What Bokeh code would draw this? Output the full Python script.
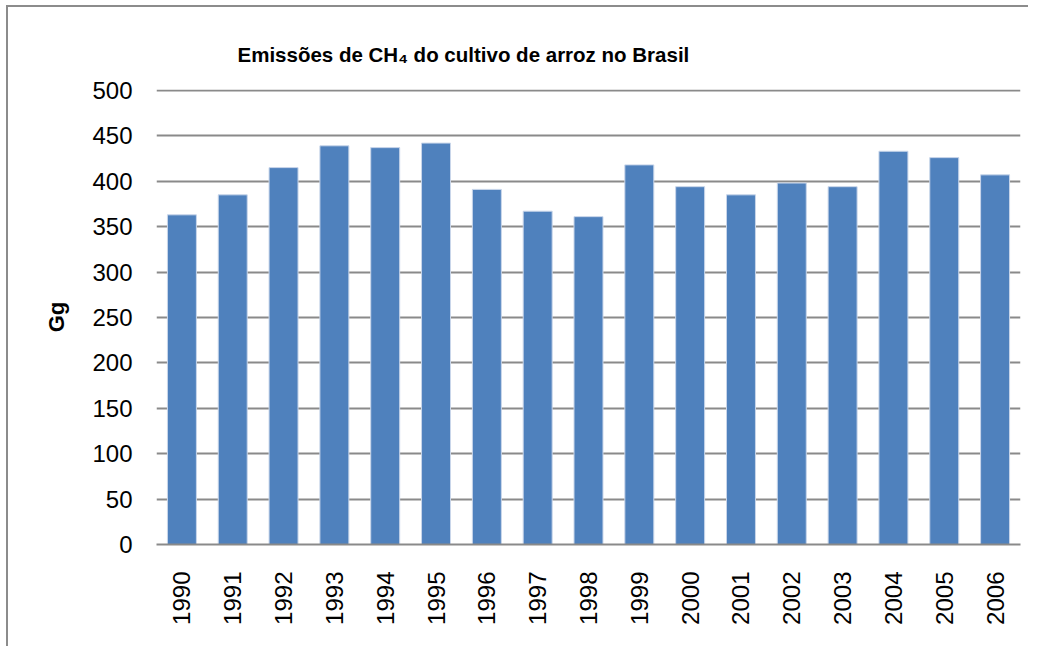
from bokeh.plotting import figure
from bokeh.models import ColumnDataSource, Range1d, FixedTicker
from bokeh.embed import file_html
from bokeh.resources import INLINE
from math import pi

years = ["1990", "1991", "1992", "1993", "1994", "1995", "1996", "1997", "1998",
         "1999", "2000", "2001", "2002", "2003", "2004", "2005", "2006"]
emissions = [363, 385, 415, 439, 437, 442, 391, 367, 361,
             418, 394, 385, 398, 394, 433, 426, 407]
y_ticks = [0, 50, 100, 150, 200, 250, 300, 350, 400, 450, 500]
title_text = "Emissões de CH₄ do cultivo de arroz no Brasil"

src = ColumnDataSource(data=dict(year=years, value=emissions))

p = figure(x_range=years, y_range=Range1d(0, 501), width=1022, height=641,
           output_backend="svg", toolbar_location=None,
           min_border_left=148, min_border_right=10, min_border_top=82,
           min_border_bottom=104,
           title=title_text)
p.styles = {"border-left": "2px solid #8c8c8c", "border-top": "2px solid #8c8c8c",
            "margin-left": "6px", "margin-top": "5px"}

p.vbar(x="year", top="value", width=0.57, source=src,
       fill_color="#4F81BD", line_color="#c9d6ea", line_width=1)

FONT = "Liberation Sans"
p.title.text_font = FONT
p.title.text_font_style = "bold"
p.title.text_font_size = "20.5px"
p.title.text_color = "#000000"
p.title.align = "left"
p.title.vertical_align = "top"
p.title.offset = 81
p.title.standoff = 44

p.outline_line_color = None
p.xgrid.grid_line_color = None
p.ygrid.grid_line_color = "#8a8a8a"
p.ygrid.grid_line_width = 2
p.yaxis.ticker = FixedTicker(ticks=y_ticks)
p.yaxis.axis_line_color = None
p.yaxis.major_tick_line_color = None
p.yaxis.minor_tick_line_color = None
p.yaxis.major_label_standoff = 18
p.yaxis.major_label_text_font = FONT
p.yaxis.major_label_text_font_size = "24px"
p.yaxis.major_label_text_color = "#000000"
p.yaxis.axis_label = "Gg"
p.yaxis.axis_label_text_font = FONT
p.yaxis.axis_label_text_font_style = "bold"
p.yaxis.axis_label_text_font_size = "22px"
p.yaxis.axis_label_text_color = "#000000"
p.yaxis.axis_label_standoff = 20

p.xaxis.axis_line_color = "#8a8a8a"
p.xaxis.axis_line_width = 2
p.xaxis.major_tick_line_color = None
p.xaxis.minor_tick_line_color = None
p.xaxis.major_label_orientation = pi / 2
p.xaxis.major_label_standoff = 21
p.xaxis.major_label_text_font = FONT
p.xaxis.major_label_text_font_size = "24px"
p.xaxis.major_label_text_color = "#000000"
p.x_range.range_padding = 0

open("out.html", "w").write(file_html(p, INLINE))
